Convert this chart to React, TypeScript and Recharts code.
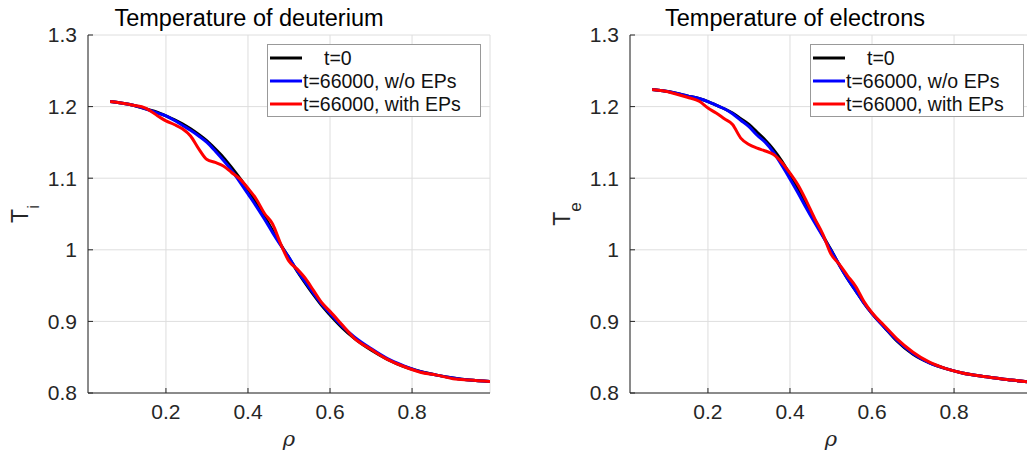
import React from "react";
import { CartesianGrid, Line, LineChart, XAxis, YAxis } from "recharts";

// normalised radius, shared by all profiles
const rho = [
  0.064, 0.09, 0.12, 0.15, 0.18, 0.2, 0.22, 0.24, 0.26, 0.28, 0.3, 0.32, 0.34, 0.36, 0.38, 0.4, 0.42, 0.44,
  0.46, 0.48, 0.5, 0.52, 0.54, 0.56, 0.58, 0.6, 0.63, 0.66, 0.7, 0.74, 0.78, 0.82, 0.86, 0.9, 0.94, 0.99,
];

// deuterium temperature
const tiInitial = [
  1.207, 1.205, 1.202, 1.197, 1.192, 1.187, 1.182, 1.176, 1.169, 1.161, 1.152, 1.141, 1.129, 1.115, 1.1, 1.084,
  1.066, 1.047, 1.027, 1.007, 0.989, 0.97, 0.953, 0.937, 0.922, 0.909, 0.891, 0.876, 0.86, 0.847, 0.837, 0.83,
  0.825, 0.821, 0.818, 0.816,
];
const tiNoEP = [
  1.207, 1.205, 1.202, 1.197, 1.191, 1.187, 1.181, 1.174, 1.167, 1.159, 1.15, 1.138, 1.125, 1.111, 1.095, 1.078,
  1.061, 1.043, 1.024, 1.006, 0.989, 0.971, 0.955, 0.939, 0.924, 0.911, 0.893, 0.878, 0.862, 0.848, 0.838, 0.83,
  0.825, 0.821, 0.818, 0.816,
];
const tiEP = [
  1.207, 1.205, 1.202, 1.198, 1.187, 1.18, 1.175, 1.169, 1.159, 1.141, 1.126, 1.122, 1.117, 1.108, 1.099, 1.086,
  1.071, 1.051, 1.036, 1.008, 0.984, 0.973, 0.96, 0.943, 0.926, 0.914, 0.895, 0.876, 0.861, 0.847, 0.837, 0.829,
  0.825, 0.82, 0.818, 0.816,
];

// electron temperature
const teInitial = [
  1.224, 1.222, 1.219, 1.215, 1.211, 1.207, 1.202, 1.197, 1.191, 1.183, 1.175, 1.164, 1.153, 1.14, 1.124, 1.105,
  1.085, 1.063, 1.042, 1.02, 1.0, 0.979, 0.96, 0.943, 0.926, 0.911, 0.892, 0.873, 0.854, 0.842, 0.834, 0.828,
  0.824, 0.821, 0.818, 0.815,
];
const teNoEP = [
  1.224, 1.222, 1.219, 1.215, 1.211, 1.207, 1.202, 1.197, 1.19, 1.181, 1.172, 1.16, 1.15, 1.136, 1.118, 1.099,
  1.079, 1.058, 1.038, 1.019, 0.999, 0.979, 0.96, 0.943, 0.926, 0.911, 0.892, 0.874, 0.855, 0.842, 0.834, 0.828,
  0.824, 0.821, 0.818, 0.815,
];
const teEP = [
  1.224, 1.222, 1.218, 1.213, 1.207, 1.198, 1.191, 1.183, 1.175, 1.156, 1.147, 1.142, 1.138, 1.133, 1.122, 1.107,
  1.09, 1.068, 1.044, 1.022, 0.994, 0.98, 0.964, 0.949, 0.928, 0.912, 0.894, 0.876, 0.857, 0.843, 0.834, 0.828,
  0.824, 0.821, 0.818, 0.815,
];

const xTicks = [0.2, 0.4, 0.6, 0.8];
const yTicks = [0.8, 0.9, 1, 1.1, 1.2, 1.3];
const seriesNames = ["t=0", "t=66000, w/o EPs", "t=66000, with EPs"];
const seriesColors = ["#000000", "#0000ff", "#ff0000"];
const seriesKeys = ["initial", "noEP", "withEP"];

const AXIS = "#262626";
const FONT = "'Liberation Sans', Arial, Helvetica, sans-serif";

function Panel({ left, width, yAxisWidth, marginRight, series }: any) {
  const data = rho.map((r, i) => ({
    rho: r,
    initial: series[0][i],
    noEP: series[1][i],
    withEP: series[2][i],
  }));
  const common = { stroke: AXIS, tickLine: { stroke: AXIS }, allowDataOverflow: true };
  return (
    <div style={{ position: "absolute", left, top: 0 }}>
      <LineChart width={width} height={456} data={data} margin={{ top: 35, right: marginRight, bottom: 0, left: 0 }}>
        <CartesianGrid stroke="#dedede" />
        <XAxis
          {...common}
          dataKey="rho"
          type="number"
          domain={[0.01, 0.99]}
          ticks={xTicks}
          height={63}
          tickSize={-5}
          tickMargin={16}
          tick={{ fill: AXIS, fontSize: 21 }}
        />
        <XAxis
          {...common}
          xAxisId="top"
          orientation="top"
          dataKey="rho"
          type="number"
          domain={[0.01, 0.99]}
          ticks={xTicks}
          height={0}
          tickSize={-5}
          tickFormatter={() => ""}
        />
        <YAxis
          {...common}
          type="number"
          domain={[0.8, 1.3]}
          ticks={yTicks}
          width={yAxisWidth}
          tickSize={-5}
          tickMargin={16}
          tick={{ fill: AXIS, fontSize: 21 }}
          tickFormatter={(v: number) => String(v)}
        />
        <YAxis
          {...common}
          yAxisId="right"
          orientation="right"
          type="number"
          domain={[0.8, 1.3]}
          ticks={yTicks}
          width={0}
          tickSize={-5}
          tickFormatter={() => ""}
        />
        {seriesKeys.map((k, i) => (
          <Line
            key={k}
            dataKey={k}
            type="monotone"
            stroke={seriesColors[i]}
            strokeWidth={3}
            dot={false}
            isAnimationActive={false}
          />
        ))}
      </LineChart>
    </div>
  );
}

function LegendBox({ x, y }: { x: number; y: number }) {
  return (
    <g transform={`translate(${x},${y})`}>
      <rect x={0.5} y={0.5} width={213} height={72} fill="#fff" stroke="#999" />
      {seriesNames.map((name, i) => (
        <g key={name}>
          <line x1={3} x2={35} y1={14 + 23 * i} y2={14 + 23 * i} stroke={seriesColors[i]} strokeWidth={3} />
          <text x={i === 0 ? 57 : 36} y={14 + 23 * i} dy="0.35em" fontSize={19.5} fill="#111">
            {name}
          </text>
        </g>
      ))}
    </g>
  );
}

function YLabel({ x, y, sub }: { x: number; y: number; sub: string }) {
  return (
    <text transform={`rotate(-90, ${x}, ${y})`} x={x} y={y} textAnchor="middle" fontSize={23} fill={AXIS}>
      T
      <tspan fontSize={17} dy={11}>
        {sub}
      </tspan>
    </text>
  );
}

export default function App() {
  return (
    <div
      style={{
        position: "absolute",
        left: 0,
        top: 0,
        width: 1027,
        height: 456,
        overflow: "hidden",
        background: "#fff",
        fontFamily: FONT,
      }}
    >
      <Panel left={0} width={520} yAxisWidth={88} marginRight={30} series={[tiInitial, tiNoEP, tiEP]} />
      <Panel left={520} width={540} yAxisWidth={110} marginRight={28} series={[teInitial, teNoEP, teEP]} />
      <svg width={1027} height={456} style={{ position: "absolute", left: 0, top: 0, pointerEvents: "none" }}>
        <text x={249} y={26} textAnchor="middle" fontSize={23.5} fill="#000">
          Temperature of deuterium
        </text>
        <text x={795} y={26} textAnchor="middle" fontSize={23.5} fill="#000">
          Temperature of electrons
        </text>
        <YLabel x={28} y={214} sub="i" />
        <YLabel x={570} y={214} sub="e" />
        <text x={289} y={446} textAnchor="middle" fontSize={21} fontStyle="italic" fill={AXIS} fontFamily="'DejaVu Serif', serif">
          ρ
        </text>
        <text x={831} y={446} textAnchor="middle" fontSize={21} fontStyle="italic" fill={AXIS} fontFamily="'DejaVu Serif', serif">
          ρ
        </text>
        <LegendBox x={267} y={44} />
        <LegendBox x={810} y={44} />
      </svg>
    </div>
  );
}
